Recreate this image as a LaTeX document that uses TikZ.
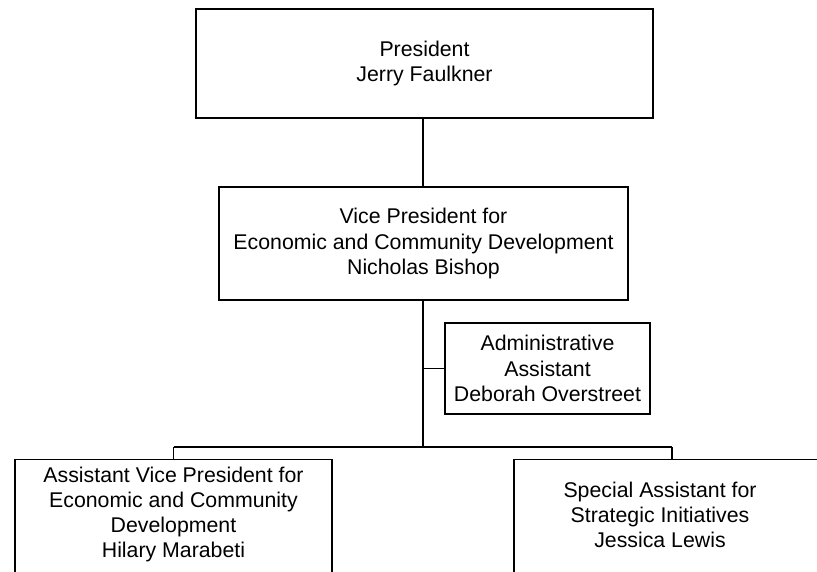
\documentclass[tikz,border=0pt]{standalone}
\usepackage{fontspec}
\setmainfont{Liberation Sans}
\begin{document}
\begin{tikzpicture}[x=1pt,y=1pt,
  box/.style={draw=black, line width=1.4pt, inner sep=0pt},
  txt/.style={align=center, inner sep=0pt, font=\fontsize{21.3pt}{25.3pt}\selectfont},
  link/.style={draw=black, line width=1.4pt}]
\useasboundingbox (0,0) rectangle (817,-571);
% boxes
\node[box, txt, minimum width=457pt, minimum height=109pt] (pres) at (424.5,-63.5)
  {President\\Jerry Faulkner};
\node[box, txt, minimum width=409pt, minimum height=113pt] (vp) at (423.5,-243.5)
  {Vice President for\\Economic and Community Development\\Nicholas Bishop};
\node[box, txt, minimum width=205pt, minimum height=91pt] (adm) at (547.5,-368.5)
  {Administrative\\Assistant\\Deborah Overstreet};
\node[box, minimum width=317pt, minimum height=140pt, anchor=north] (avp) at (173.5,-459) {};
\node[txt] (avpt) at (173.5,-514.5)
  {Assistant Vice President for\\Economic and Community\\Development\\Hilary Marabeti};
\node[box, minimum width=316pt, minimum height=140pt, anchor=north] (sa) at (672,-459) {};
\node[txt] (sat) at (660,-515)
  {Special Assistant for\\Strategic Initiatives\\Jessica Lewis};
% connectors
\coordinate (bus) at (423,-447);
\coordinate (bl) at (173.5,-447);
\coordinate (br) at (672,-447);
\draw[link] (pres.south -| bus) -- (vp.north -| bus);
\draw[link] (vp.south -| bus) -- (bus);
\draw[link] (adm.west) -- (adm.west -| bus);
\draw[link] (bl) -- (br);
\draw[link] (bl) -- (avp.north);
\draw[link] (br) -- (sa.north);
\end{tikzpicture}
\end{document}
